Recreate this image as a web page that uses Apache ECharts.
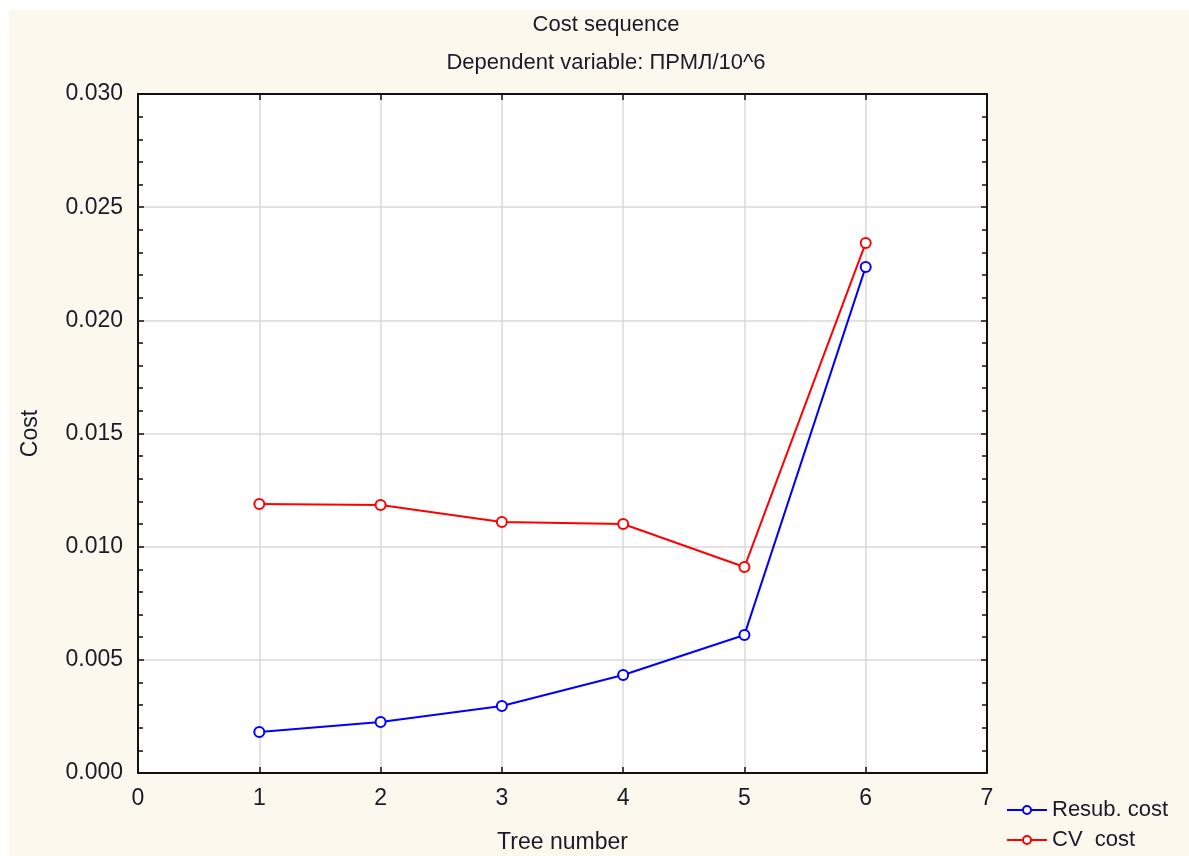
<!DOCTYPE html>
<html>
<head>
<meta charset="utf-8">
<script src="https://cdn.jsdelivr.net/npm/echarts@6/dist/echarts.min.js"></script>
<style>
  html, body { margin: 0; padding: 0; background: #ffffff; }
  #frame { position: absolute; left: 9px; top: 10px; width: 1180px; height: 846px; background: #fdf8ee; }
  #main { position: absolute; left: 0; top: 0; width: 1189px; height: 856px; }
</style>
</head>
<body>
<div id="frame"></div>
<div id="main"></div>
<script>
// data
var treeNumbers = [1, 2, 3, 4, 5, 6];
var resubCost = [0.00181, 0.00225, 0.00296, 0.00433, 0.00610, 0.02236];
var cvCost = [0.01189, 0.01184, 0.01109, 0.01100, 0.00910, 0.02342];
var seriesNames = ['Resub. cost', 'CV  cost'];

var font = 'Arial, "Liberation Sans", sans-serif';
var textColor = '#1a1a2a';
var fs = 23;

function pairs(xs, ys) {
	return xs.map(function (x, i) { return [x, ys[i]]; });
}

var myChart = echarts.init(document.getElementById('main'));

var baseAxis = {
	axisLine: { show: true, onZero: false, lineStyle: { color: '#111', width: 2 } },
	axisTick: { show: true, inside: true, length: 6, lineStyle: { color: '#111', width: 1.5 } },
	axisLabel: { color: textColor, fontSize: fs, fontFamily: font },
	splitLine: { show: false }
};

option = {
	backgroundColor: 'transparent',
	animation: false,
	title: [
		{ text: 'Cost sequence', left: 601, top: 9, textAlign: 'center',
		  textStyle: { fontSize: 22, fontWeight: 'normal', color: textColor, fontFamily: font } },
		{ text: 'Dependent variable: ПРМЛ/10^6', left: 601, top: 47, textAlign: 'center',
		  textStyle: { fontSize: 22, fontWeight: 'normal', color: textColor, fontFamily: font } }
	],
	legend: {
		orient: 'vertical',
		left: 1001,
		top: 794,
		itemGap: 8,
		itemWidth: 40,
		itemHeight: 10,
		textStyle: { fontSize: 22, color: textColor, fontFamily: font },
		data: seriesNames
	},
	grid: { left: 138, right: 202, top: 94, bottom: 83, containLabel: false, outerBoundsMode: 'none',
		backgroundColor: '#ffffff', show: true, borderWidth: 0 },
	xAxis: [
		Object.assign({}, baseAxis, {
			type: 'value', min: 0, max: 7, interval: 1, position: 'bottom',
			name: 'Tree number', nameLocation: 'middle', nameGap: 58,
			nameTextStyle: { fontSize: fs, color: textColor, fontFamily: font },
			axisLabel: { color: textColor, fontSize: fs, fontFamily: font, margin: 14 },
			splitLine: { show: true, lineStyle: { color: '#d9d9d9', width: 1.5 } }
		}),
		Object.assign({}, baseAxis, {
			type: 'value', min: 0, max: 7, interval: 1, position: 'top',
			axisLabel: { show: false }
		})
	],
	yAxis: [
		Object.assign({}, baseAxis, {
			type: 'value', min: 0, max: 0.03, interval: 0.005, position: 'left',
			name: 'Cost', nameLocation: 'middle', nameGap: 96, nameRotate: 90,
			nameTextStyle: { fontSize: fs, color: textColor, fontFamily: font },
			axisLabel: { color: textColor, fontSize: fs, fontFamily: font, margin: 15,
				formatter: function (v) { return v.toFixed(3); } },
			minorTick: { show: true, splitNumber: 5, length: 5, lineStyle: { color: '#111', width: 1.5 } },
			splitLine: { show: true, lineStyle: { color: '#d9d9d9', width: 1.5 } }
		}),
		Object.assign({}, baseAxis, {
			type: 'value', min: 0, max: 0.03, interval: 0.005, position: 'right',
			axisLabel: { show: false },
			minorTick: { show: true, splitNumber: 5, length: 5, lineStyle: { color: '#111', width: 1.5 } }
		})
	],
	series: [
		{
			name: seriesNames[0], type: 'line', data: pairs(treeNumbers, resubCost),
			symbol: 'emptyCircle', symbolSize: 10,
			lineStyle: { color: '#0000ff', width: 2 },
			itemStyle: { color: '#0000ff', borderWidth: 1.5 }
		},
		{
			name: seriesNames[1], type: 'line', data: pairs(treeNumbers, cvCost),
			symbol: 'emptyCircle', symbolSize: 10,
			lineStyle: { color: '#ff0000', width: 2 },
			itemStyle: { color: '#ff0000', borderWidth: 1.5 }
		}
	]
};

myChart.setOption(option);
window.onresize = myChart.resize;
</script>
</body>
</html>
